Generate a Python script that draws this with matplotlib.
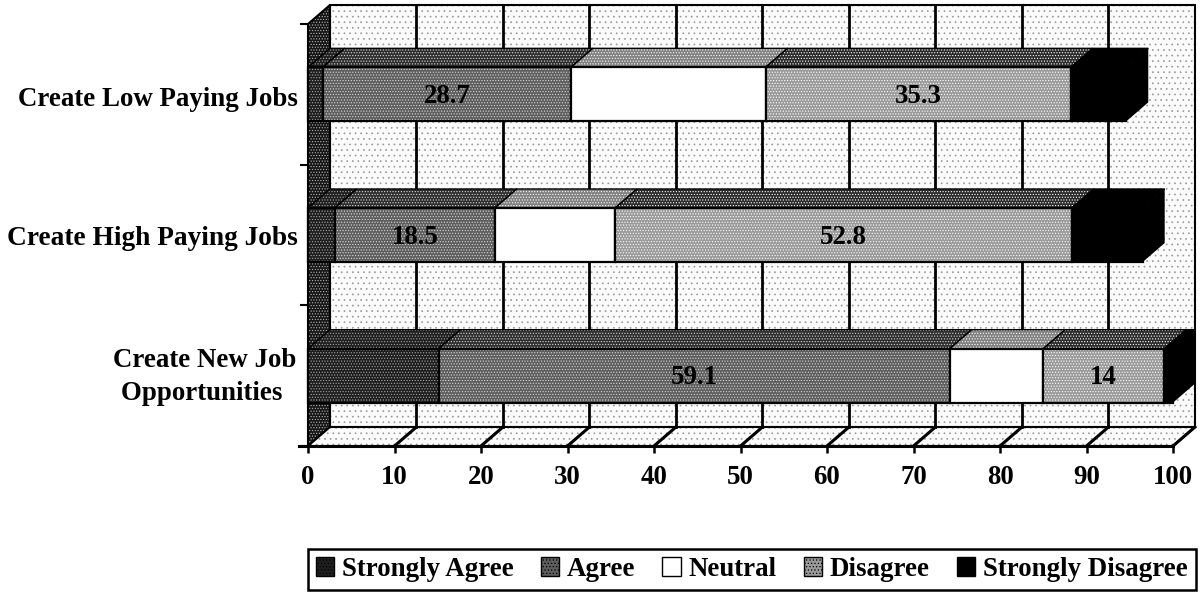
import matplotlib
matplotlib.use("Agg")
import matplotlib.pyplot as plt
from matplotlib.patches import Polygon, Patch

# Valori (dal basso verso l'alto)
categories = ["Create New Job\nOpportunities ", "Create High Paying Jobs", "Create Low Paying Jobs"]
series = ["Strongly Agree", "Agree", "Neutral", "Disagree", "Strongly Disagree"]
strongly_agree = [15.1, 3.1, 1.7]
agree = [59.1, 18.5, 28.7]
neutral = [10.8, 13.9, 22.5]
disagree = [14, 52.8, 35.3]
strongly_disagree = [1, 8.2, 6.4]
x_ticks = [0, 10, 20, 30, 40, 50, 60, 70, 80, 90, 100]
labelled = ["Agree", "Disagree"]

values = [strongly_agree, agree, neutral, disagree, strongly_disagree]
front = ["#1e1e1e", "#5e5e5e", "white", "#9a9a9a", "black"]
top = ["#1e1e1e", "#2e2e2e", "#808080", "#2a2a2a", "black"]
side = ["#1e1e1e", "#222222", "#555555", "#333333", "black"]
stipple = ["#a8a8a8", "#d8d8d8", "white", "white", "black"]

plt.rcParams["font.family"] = ["Liberation Serif", "DejaVu Serif"]
plt.rcParams["hatch.linewidth"] = 0.5

W, H = 1200, 596
FS = 19.4
fig = plt.figure(figsize=(W / 100, H / 100), dpi=100)
ax = fig.add_axes([308 / W, 1 - 446 / H, 865 / W, 422 / H])
ax.set_xlim(0, 100)
ax.set_ylim(0, 3)

dx = 2.54   # profondita' 3D in unita' dell'asse x
dy = 0.135  # profondita' 3D in unita' dell'asse y
bar_h = 0.384


def faccia(pts, color, hatch_color=None, hatch="......", z=2, lw=0.0):
    # faccia piena + puntinatura sopra
    ax.add_patch(Polygon(pts, closed=True, facecolor=color, edgecolor="none", zorder=z, clip_on=False))
    if hatch_color is not None and hatch_color != color:
        ax.add_patch(Polygon(pts, closed=True, facecolor="none", edgecolor=hatch_color, hatch=hatch,
                             linewidth=0, zorder=z, clip_on=False))
    ax.add_patch(Polygon(pts, closed=True, facecolor="none", edgecolor="black", linewidth=lw, zorder=z,
                         clip_on=False))


# Pareti e pavimento
faccia([(dx, dy), (100 + dx, dy), (100 + dx, 3 + dy), (dx, 3 + dy)], "#fbfbfb", "#999999", "...", z=1, lw=1.5)
faccia([(0, 0), (dx, dy), (dx, 3 + dy), (0, 3)], "#161616", "#b8b8b8", "......", z=1, lw=1.5)
faccia([(0, 0), (100, 0), (100 + dx, dy), (dx, dy)], "#fbfbfb", "#999999", "...", z=1, lw=1.5)

for t in x_ticks:
    if 0 < t <= 100:
        ax.plot([t, t + dx], [0, dy], color="black", lw=2.2, zorder=1.5, clip_on=False)
    if 0 < t < 100:
        ax.plot([t + dx, t + dx], [dy, 3 + dy], color="black", lw=2.0, zorder=1.5, clip_on=False)

# Barre 3D, dall'alto verso il basso
for i in [2, 1, 0]:
    y0 = i + 0.5 - bar_h / 2
    y1 = i + 0.5 + bar_h / 2
    left = 0
    z = 3 + (2 - i)
    for s in range(len(series)):
        right = left + values[s][i]
        faccia([(right, y0), (right + dx, y0 + dy), (right + dx, y1 + dy), (right, y1)], side[s], stipple[s], z=z)
        faccia([(left, y1), (right, y1), (right + dx, y1 + dy), (left + dx, y1 + dy)], top[s], stipple[s], z=z, lw=1)
        faccia([(left, y0), (right, y0), (right, y1), (left, y1)], front[s], stipple[s], z=z, lw=1.6)
        if series[s] in labelled:
            ax.text((left + right) / 2, i + 0.485, str(values[s][i]), ha="center", va="center",
                    fontsize=FS, fontweight="bold", color="black", zorder=z + 0.5)
        left = right

for spine in ax.spines.values():
    spine.set_visible(False)
ax.patch.set_visible(False)

ax.set_xticks(x_ticks)
ax.set_xticklabels([str(t) for t in x_ticks], fontsize=FS, fontweight="bold")
ax.tick_params(axis="x", length=5, width=1.8, pad=9)
ax.set_yticks([0, 1, 2, 3])
ax.set_yticklabels([])
ax.tick_params(axis="y", length=6, width=1.5)
ax.plot([-1, 100], [0, 0], color="black", lw=2.2, zorder=1.6, clip_on=False)

ax.text(-1.15, 1.475, categories[1], ha="right", va="center", fontsize=FS + 0.3, fontweight="bold")
ax.text(-1.15, 2.465, categories[2], ha="right", va="center", fontsize=FS, fontweight="bold")
ax.text(-11.9, 0.49, categories[0], ha="center", va="center", fontsize=FS, fontweight="bold", linespacing=1.38)

# Legenda
handles = [Patch(facecolor=front[s], edgecolor="black", linewidth=1, hatch="....." if s in (0, 1, 3) else None,
                 label=series[s]) for s in range(len(series))]
leg = fig.legend(handles=handles, loc="lower left", bbox_to_anchor=(308 / W, 1 - 590 / H), ncol=5,
                 frameon=True, fancybox=False, edgecolor="black", framealpha=1, borderaxespad=0,
                 prop={"size": FS, "weight": "bold"}, handlelength=0.67, handleheight=0.67,
                 handletextpad=0.3, columnspacing=1.0, borderpad=0.3)
leg.get_frame().set_linewidth(1.8)

fig.savefig("out.png", dpi=100)
